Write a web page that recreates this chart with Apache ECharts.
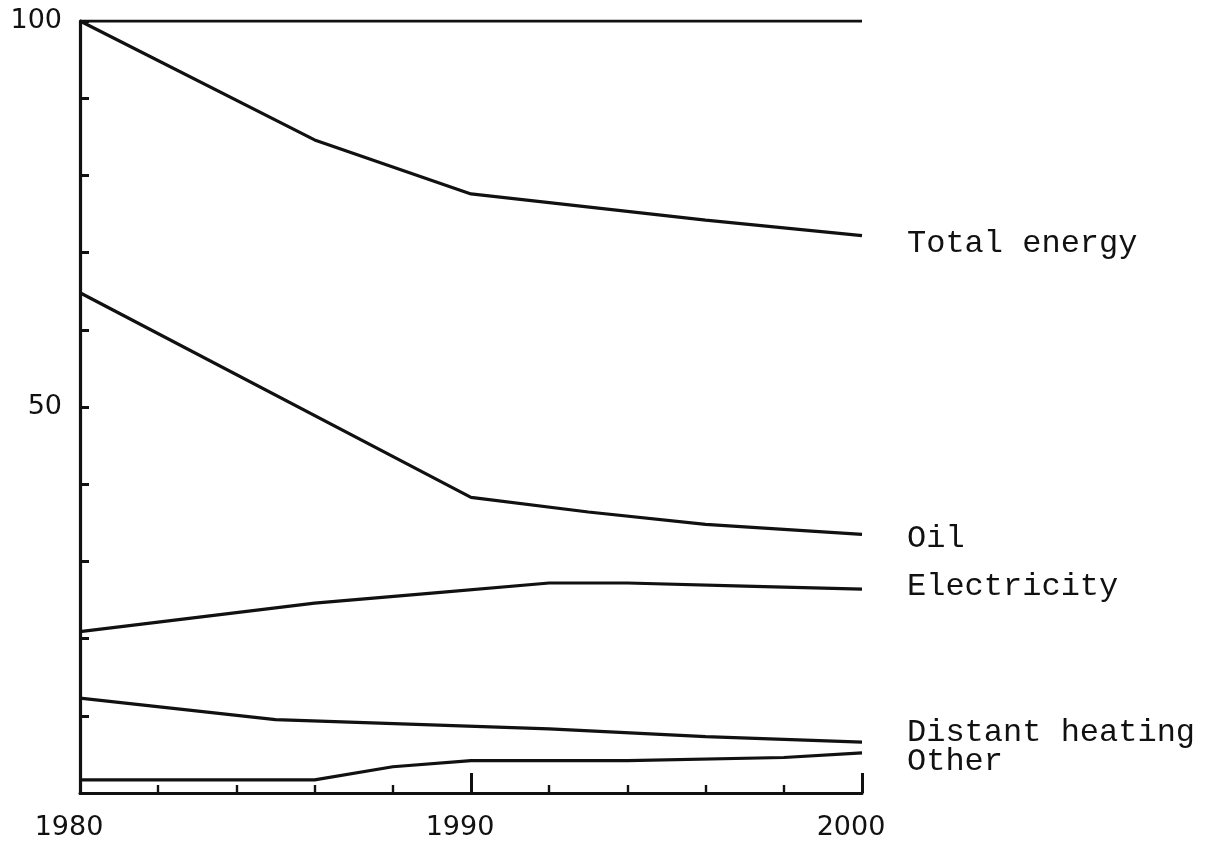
<!DOCTYPE html>
<html>
<head>
<meta charset="utf-8">
<script src="https://cdn.jsdelivr.net/npm/echarts@6/dist/echarts.min.js"></script>
<style>
html,body{margin:0;padding:0;background:#fff;}
#chart{width:1210px;height:846px;}
</style>
</head>
<body>
<div id="chart"></div>
<script>
// ---- data ----
const xTickLabels = ['1980', '1990', '2000'];
const yTickLabels = ['50', '100'];

const refYears = [1980, 2000];
const refValues = [100, 100];

const totalYears = [1980, 1986, 1990, 1996, 2000];
const totalValues = [100, 84.6, 77.6, 74.2, 72.2];

const oilYears = [1980, 1990, 1993, 1996, 2000];
const oilValues = [64.8, 38.3, 36.4, 34.8, 33.5];

const elecYears = [1980, 1986, 1989, 1992, 1994, 1997, 2000];
const elecValues = [20.9, 24.6, 25.9, 27.2, 27.2, 26.8, 26.4];

const heatYears = [1980, 1985, 1992, 1996, 2000];
const heatValues = [12.3, 9.5, 8.3, 7.3, 6.6];

const otherYears = [1980, 1986, 1988, 1990, 1994, 1998, 2000];
const otherValues = [1.7, 1.7, 3.4, 4.2, 4.2, 4.6, 5.2];

function zip(xs, ys) { return xs.map((x, i) => [x, ys[i]]); }

// dy: vertical shift of the end label (px, positive = down)
function lineSeries(name, xs, ys, dy) {
  const lh = Math.max(2, Math.abs(dy) * 2);
  const text = dy > 0 ? ' \n' + name : (dy < 0 ? name + '\n ' : name);
  return {
    name: name,
    type: 'line',
    data: zip(xs, ys),
    symbol: 'none',
    silent: true,
    lineStyle: { color: '#111', width: 3.2 },
    endLabel: {
      show: true,
      formatter: text,
      distance: 45,
      fontFamily: 'Liberation Mono',
      fontSize: 32,
      lineHeight: dy === 0 ? 36 : lh,
      color: '#111'
    }
  };
}

const chart = echarts.init(document.getElementById('chart'));
chart.setOption({
  animation: false,
  backgroundColor: '#fff',
  grid: { left: 80, right: 348, top: 21, bottom: 53 },
  xAxis: {
    type: 'value',
    min: 1980, max: 2000, interval: 10,
    axisLine: { show: true, lineStyle: { color: '#111', width: 3 } },
    axisTick: { show: true, inside: true, length: 20, lineStyle: { color: '#111', width: 3 } },
    minorTick: { show: true, splitNumber: 5, length: 8, lineStyle: { color: '#111', width: 2.4 } },
    splitLine: { show: false },
    axisLabel: {
      margin: 21,
      fontFamily: 'DejaVu Sans', fontSize: 27, color: '#111',
      padding: [0, 22, 0, 0],
      formatter: v => xTickLabels.includes(String(v)) ? String(v) : ''
    }
  },
  yAxis: {
    type: 'value',
    min: 0, max: 100, interval: 10,
    axisLine: { show: true, lineStyle: { color: '#111', width: 3.2 } },
    axisTick: { show: true, inside: true, length: 9, lineStyle: { color: '#111', width: 3 } },
    splitLine: { show: false },
    axisLabel: {
      margin: 18,
      fontFamily: 'DejaVu Sans', fontSize: 27, color: '#111',
      formatter: v => yTickLabels.includes(String(v)) ? String(v) : ''
    }
  },
  series: [
    {
      type: 'line', data: zip(refYears, refValues), symbol: 'none', silent: true,
      lineStyle: { color: '#111', width: 2.8 }
    },
    lineSeries('Total energy', totalYears, totalValues, 8),
    lineSeries('Oil', oilYears, oilValues, 4),
    lineSeries('Electricity', elecYears, elecValues, -3),
    lineSeries('Distant heating', heatYears, heatValues, -10),
    lineSeries('Other', otherYears, otherValues, 9)
  ]
});
</script>
</body>
</html>
